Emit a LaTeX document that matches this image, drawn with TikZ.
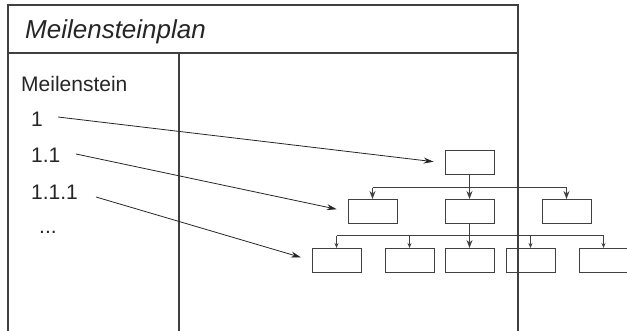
\documentclass[tikz,border=0pt]{standalone}
\usepackage{fontspec}
\setmainfont{Liberation Sans}
\usetikzlibrary{arrows.meta,calc}
\tikzset{
  frameline/.style={draw=black!75, line width=1.1pt},
  wbs/.style={draw=black!75, line width=1pt, minimum width=49pt, minimum height=24pt, inner sep=0pt},
  bus/.style={draw=black!75, line width=1pt},
  bigtip/.style={bus, -{Stealth[length=8pt,width=6pt]}},
  smalltip/.style={bus, -{Stealth[length=5pt,width=4pt]}},
  pointer/.style={draw=black!85, line width=0.8pt, -{Stealth[length=10pt,width=6pt]}, shorten >=11pt},
  label/.style={anchor=base west, inner sep=0pt, font=\fontsize{21}{24}\selectfont, text=black!85},
}
\begin{document}
\begin{tikzpicture}[x=1pt,y=-1pt]
\useasboundingbox (0,0) rectangle (627,331);
% frame of the plan
\draw[frameline] (8,331) -- (8,5) -- (518,5) -- (518,331);
\draw[frameline] (8,53) -- (518,53);
\draw[frameline] (179,53) -- (179,331);
% title and list of milestones
\node[anchor=base west, inner sep=0pt, font=\fontsize{26}{30}\selectfont\itshape, text=black!85] (title) at (25,39) {Meilensteinplan};
\node[label] (head) at (21,92) {Meilenstein};
\node[label] (m1) at (31,127) {1};
\node[label] (m2) at (31,163) {1.1};
\node[label] (m3) at (31,200) {1.1.1};
\node[label] (m4) at (39,234) {...};
\coordinate (s1) at (58,117);
\coordinate (s2) at (76,154);
\coordinate (s3) at (96,197);
% structure tree
\node[wbs] (t) at (469.5,163) {};
\node[wbs] (a1) at (372.5,211.5) {};
\node[wbs] (a2) at (469.5,211.5) {};
\node[wbs] (a3) at (566.5,211.5) {};
\node[wbs] (b1) at (336.5,260.5) {};
\node[wbs] (b2) at (409.5,260.5) {};
\node[wbs] (b3) at (469.5,260.5) {};
\node[wbs] (b4) at (530.5,260.5) {};
\node[wbs] (b5) at (603.5,260.5) {};
% first level connectors
\draw[bus] (a1.north |- 0,188) -- (a3.north |- 0,188);
\draw[bigtip] (t.south) -- (a2.north);
\draw[bigtip] (a1.north |- 0,188) -- (a1.north);
\draw[bigtip] (a3.north |- 0,188) -- (a3.north);
% second level connectors
\draw[bus] (b1.north |- 0,236) -- (b5.north |- 0,236);
\draw[bigtip] (a2.south) -- (b3.north);
\draw[smalltip] (b1.north |- 0,236) -- (b1.north);
\draw[smalltip] (b2.north |- 0,236) -- (b2.north);
\draw[smalltip] (b4.north |- 0,236) -- (b4.north);
\draw[smalltip] (b5.north |- 0,236) -- (b5.north);
% pointers from milestones into the tree
\draw[pointer] (s1) -- (t.west);
\draw[pointer] (s2) -- (a1.west);
\draw[pointer] (s3) -- (b1.west);
\end{tikzpicture}
\end{document}
